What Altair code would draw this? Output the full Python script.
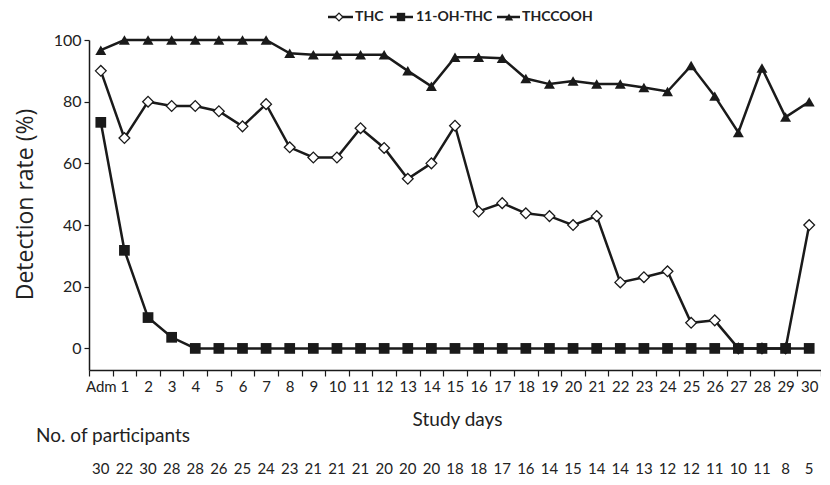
import altair as alt
import pandas as pd

days = ["Adm"] + [str(i) for i in range(1, 31)]
thc = [90, 68.2, 80, 78.6, 78.6, 76.9, 72, 79.2, 65.2, 61.9, 61.9, 71.4, 65, 55, 60, 72.2,
       44.4, 47.1, 43.8, 42.9, 40, 42.9, 21.4, 23.1, 25, 8.3, 9.1, 0, 0, 0, 40]
oh_thc = [73.3, 31.8, 10, 3.6, 0, 0, 0, 0, 0, 0, 0, 0, 0, 0, 0, 0,
          0, 0, 0, 0, 0, 0, 0, 0, 0, 0, 0, 0, 0, 0, 0]
thccooh = [96.7, 100, 100, 100, 100, 100, 100, 100, 95.7, 95.2, 95.2, 95.2, 95.2, 90, 85, 94.4,
           94.4, 94.1, 87.5, 85.7, 86.7, 85.7, 85.7, 84.6, 83.3, 91.7, 81.8, 70, 90.9, 75, 80]
participants = [30, 22, 30, 28, 28, 26, 25, 24, 23, 21, 21, 21, 20, 20, 20, 18,
                18, 17, 16, 14, 15, 14, 14, 13, 12, 12, 11, 10, 11, 8, 5]
series_names = ["THC", "11-OH-THC", "THCCOOH"]

rows = []
for name, vals in zip(series_names, [thc, oh_thc, thccooh]):
    for d, v in zip(days, vals):
        rows.append({"day": d, "value": v, "series": name})
df = pd.DataFrame(rows)
pdf = pd.DataFrame({"day": days, "n": participants})

W, H = 732, 330
INK = "#1a1a1a"

xenc = alt.X("day:N", sort=days,
             scale=alt.Scale(type="band", paddingInner=0, paddingOuter=0),
             axis=alt.Axis(title="Study days", labelAngle=0, tickBand="extent",
                           labelFont="Lato", labelFontSize=15, labelColor="#222",
                           labelPadding=3, tickSize=6, tickColor=INK, domainColor=INK,
                           tickWidth=1.2, domainWidth=1.5,
                           titleFont="Lato", titleFontSize=19, titleFontWeight="normal",
                           titleColor="#222", titleX=368, titleY=49, titleBaseline="middle"))
yenc = alt.Y("value:Q",
             scale=alt.Scale(domain=[-7, 100], nice=False, zero=False),
             axis=alt.Axis(values=[0, 20, 40, 60, 80, 100], grid=False, title="Detection rate (%)",
                           labelFont="Lato", labelFontSize=16, labelColor="#222",
                           tickSize=5, tickColor=INK, domainColor=INK, tickWidth=1.2, domainWidth=1.5,
                           labelPadding=3,
                           titleFont="Open Sans", titleFontSize=23, titleFontWeight="normal",
                           titleColor="#222", titleX=-64, titleY=164, titleAngle=-90,
                           titleBaseline="middle", titleAlign="center"))

base = alt.Chart(df)
lines = base.mark_line(color=INK, strokeWidth=2.5).encode(x=xenc, y=yenc, detail="series:N")
tri = base.transform_filter(alt.datum.series == "THCCOOH").mark_point(
    shape="triangle-up", size=120, filled=True, color=INK, opacity=1).encode(x=xenc, y=yenc)
dia = base.transform_filter(alt.datum.series == "THC").mark_point(
    shape="diamond", size=115, fill="white", stroke=INK, strokeWidth=1.3, opacity=1).encode(x=xenc, y=yenc)
sq = base.transform_filter(alt.datum.series == "11-OH-THC").mark_point(
    shape="square", size=115, filled=True, color=INK, opacity=1).encode(x=xenc, y=yenc)

nums = alt.Chart(pdf).mark_text(font="Lato", fontSize=15, color="#222", baseline="middle").encode(
    x=alt.X("day:N", sort=days), y=alt.value(429), text="n:Q")

label_df = pd.DataFrame({"t": ["No. of participants"]})
nolabel = alt.Chart(label_df).mark_text(font="Lato", fontSize=19, color="#222", align="left",
                                        baseline="middle").encode(
    x=alt.value(-53), y=alt.value(396), text="t:N")

# manual legend
leg_y = -23
leg_items = [
    ("THC", 239, 264, 250, 266),
    ("11-OH-THC", 301, 324, 312, 327),
    ("THCCOOH", 408, 431, 420, 433),
]
leg_layers = []
for name, x1, x2, xm, xt in leg_items:
    d = pd.DataFrame({"t": [name]})
    c = alt.Chart(d)
    leg_layers.append(c.mark_rule(color=INK, strokeWidth=2.5).encode(
        x=alt.value(x1), x2=alt.value(x2), y=alt.value(leg_y)))
    if name == "THC":
        leg_layers.append(c.mark_point(shape="diamond", size=60, fill="white", stroke=INK,
                                       strokeWidth=1.2, opacity=1).encode(x=alt.value(xm), y=alt.value(leg_y)))
    elif name == "11-OH-THC":
        leg_layers.append(c.mark_point(shape="square", size=70, filled=True, color=INK,
                                       opacity=1).encode(x=alt.value(xm), y=alt.value(leg_y)))
    else:
        leg_layers.append(c.mark_point(shape="triangle-up", size=70, filled=True, color=INK,
                                       opacity=1).encode(x=alt.value(xm), y=alt.value(leg_y)))
    leg_layers.append(c.mark_text(font="Lato", fontSize=14, fontWeight="bold", color="#222",
                                  align="left", baseline="middle").encode(
        x=alt.value(xt), y=alt.value(leg_y), text="t:N"))

chart = alt.layer(lines, tri, dia, sq, nums, nolabel, *leg_layers).properties(
    width=W, height=H,
    autosize=alt.AutoSizeParams(type="none"),
    padding={"left": 81, "top": 32, "right": 0, "bottom": 112},
).configure_view(stroke=None)

chart.save("out.html", embed_options={"renderer": "svg", "actions": False})
